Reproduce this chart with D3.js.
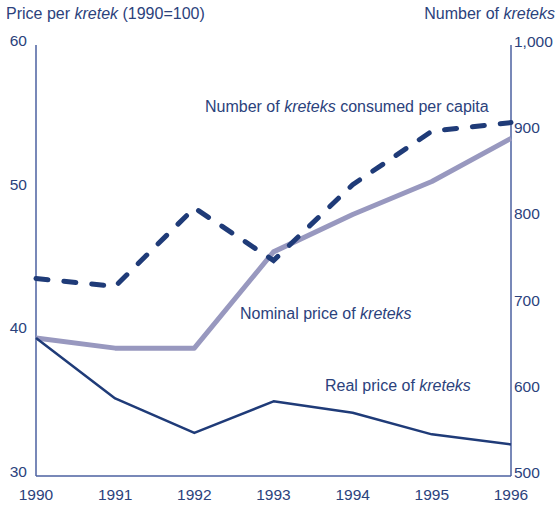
<!DOCTYPE html>
<html lang="en">
<head>
<meta charset="utf-8">
<script src="https://d3js.org/d3.v7.min.js"></script>
<style>
  body { margin: 0; background: #fff; }
  text { font-family: "Liberation Sans", Arial, sans-serif; fill: #2b427c; }
</style>
</head>
<body>
<script>
// data
var years = [1990, 1991, 1992, 1993, 1994, 1995, 1996];
var realPrice = [39.6, 35.4, 33.0, 35.2, 34.4, 32.9, 32.2];
var nominalPrice = [39.6, 38.9, 38.9, 45.6, 48.2, 50.5, 53.5];
var consumption = [729, 720, 811, 750, 838, 900, 910];
var leftTicks = [30, 40, 50, 60];
var rightTicks = [500, 600, 700, 800, 900, 1000];

var width = 559, height = 505;
var plotLeft = 36, plotRight = 511, plotTop = 45, plotBottom = 476;

var svg = d3.select("body").append("svg")
    .attr("width", width)
    .attr("height", height);

var x = d3.scaleLinear().domain([1990, 1996]).range([plotLeft, plotRight]);
var yL = d3.scaleLinear().domain([30, 60]).range([plotBottom, plotTop]);
var yR = d3.scaleLinear().domain([500, 1000]).range([plotBottom, plotTop]);

var axisColor = "#4b61a0";

// frame lines
svg.append("line").attr("x1", plotLeft).attr("x2", plotLeft).attr("y1", plotTop).attr("y2", plotBottom)
    .attr("stroke", axisColor).attr("stroke-width", 1.5);
svg.append("line").attr("x1", plotRight).attr("x2", plotRight).attr("y1", plotTop).attr("y2", plotBottom)
    .attr("stroke", axisColor).attr("stroke-width", 1.5);
svg.append("line").attr("x1", plotLeft).attr("x2", plotRight).attr("y1", plotBottom).attr("y2", plotBottom)
    .attr("stroke", axisColor).attr("stroke-width", 1.5);

// tick labels
svg.selectAll(".lt").data(leftTicks).enter().append("text")
    .attr("x", 27).attr("y", function(d) { return yL(d) + 1; })
    .attr("text-anchor", "end").attr("font-size", 15.5)
    .text(function(d) { return d; });

svg.selectAll(".rt").data(rightTicks).enter().append("text")
    .attr("x", 514).attr("y", function(d) { return yR(d) + 2; })
    .attr("font-size", 15.5)
    .text(d3.format(","));

svg.selectAll(".xt").data(years).enter().append("text")
    .attr("x", function(d) { return x(d); }).attr("y", 500)
    .attr("text-anchor", "middle").attr("font-size", 15.5)
    .text(function(d) { return d; });

// axis titles
var t1 = svg.append("text").attr("x", 6).attr("y", 19).attr("font-size", 16);
t1.append("tspan").text("Price per ");
t1.append("tspan").attr("font-style", "italic").text("kretek");
t1.append("tspan").text(" (1990=100)");

var t2 = svg.append("text").attr("x", 555).attr("y", 19).attr("font-size", 16).attr("text-anchor", "end");
t2.append("tspan").text("Number of ");
t2.append("tspan").attr("font-style", "italic").text("kreteks");

// lines
var lineL = d3.line().x(function(d, i) { return x(years[i]); }).y(function(d) { return yL(d); });
var lineR = d3.line().x(function(d, i) { return x(years[i]); }).y(function(d) { return yR(d); });

svg.append("path").datum(nominalPrice).attr("d", lineL)
    .attr("fill", "none").attr("stroke", "#9898bf").attr("stroke-width", 5)
    .attr("stroke-linejoin", "round");

svg.append("path").datum(realPrice).attr("d", lineL)
    .attr("fill", "none").attr("stroke", "#1f3b78").attr("stroke-width", 2.5)
    .attr("stroke-linejoin", "round");

svg.append("path").datum(consumption).attr("d", lineR)
    .attr("fill", "none").attr("stroke", "#1f3b78").attr("stroke-width", 5)
    .attr("stroke-linecap", "round").attr("stroke-dasharray", "12,16");

// series labels
function label(xp, yp, pre, it, post) {
  var t = svg.append("text").attr("x", xp).attr("y", yp).attr("font-size", 16);
  t.append("tspan").text(pre);
  t.append("tspan").attr("font-style", "italic").text(it);
  if (post) t.append("tspan").text(post);
}
label(205, 112, "Number of ", "kreteks", " consumed per capita");
label(240, 319, "Nominal price of ", "kreteks");
label(325, 391, "Real price of ", "kreteks");
</script>
</body>
</html>
